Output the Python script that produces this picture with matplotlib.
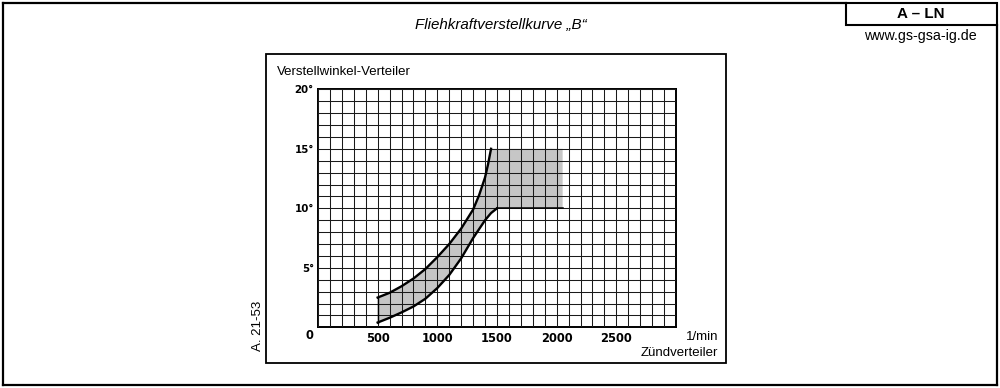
import matplotlib
matplotlib.use("Agg")
import matplotlib.pyplot as plt
from matplotlib.patches import Rectangle
from matplotlib.lines import Line2D
import numpy as np

# readings from the chart (rpm of distributor, advance angle in degrees)
upper_rpm = [500, 600, 700, 800, 900, 1000, 1100, 1200, 1300, 1350, 1400, 1425, 1450]
upper_deg = [2.5, 2.9, 3.45, 4.1, 4.9, 5.9, 7.0, 8.3, 9.9, 11.1, 12.6, 13.7, 15.0]
lower_rpm = [500, 600, 700, 800, 900, 1000, 1100, 1200, 1300, 1400, 1450, 1500]
lower_deg = [0.4, 0.8, 1.25, 1.75, 2.4, 3.3, 4.4, 5.8, 7.5, 9.0, 9.6, 10.0]
flat_end_rpm = 2050
flat_upper_deg = 15
flat_lower_deg = 10

x_ticks = [500, 1000, 1500, 2000, 2500]
y_ticks = [5, 10, 15, 20]

W, H = 1000, 388


def fx(px):
    return px / W


def fy(py):
    return 1 - py / H


def main():
    fig = plt.figure(figsize=(10, 3.88), dpi=100)
    fig.patch.set_facecolor("white")

    ax = fig.add_axes([fx(318), fy(327.3), fx(676) - fx(318), fy(89.3) - fy(327.3)])
    ax.set_xlim(0, 3000)
    ax.set_ylim(0, 20)

    ax.set_xticks(np.arange(0, 3001, 100), minor=True)
    ax.set_yticks(np.arange(0, 21, 1), minor=True)
    ax.set_xticks(x_ticks)
    ax.set_xticklabels([str(v) for v in x_ticks], fontfamily="DejaVu Sans",
                       fontweight="bold", fontsize=8.3)
    ax.set_yticks(y_ticks)
    ax.set_yticklabels([f"{v}°" for v in y_ticks], fontfamily="DejaVu Sans",
                       fontweight="bold", fontsize=7.4)
    ax.tick_params(which="both", length=0)
    ax.tick_params(axis="x", pad=3.2)
    ax.tick_params(axis="y", pad=3.0)

    ax.set_axisbelow(False)
    ax.grid(which="both", color="#1a1a1a", linewidth=0.75)
    for s in ax.spines.values():
        s.set_linewidth(1.4)

    # shaded band
    poly_x = upper_rpm + [flat_end_rpm, flat_end_rpm] + lower_rpm[::-1]
    poly_y = upper_deg + [flat_upper_deg, flat_lower_deg] + lower_deg[::-1]
    ax.fill(poly_x, poly_y, facecolor="#c6c6c6", edgecolor="none", zorder=1)

    ax.plot(upper_rpm, upper_deg, color="black", linewidth=1.7, zorder=3)
    ax.plot(lower_rpm, lower_deg, color="black", linewidth=1.7, zorder=3)
    ax.plot([upper_rpm[0], lower_rpm[0]], [upper_deg[0], lower_deg[0]],
            color="black", linewidth=1.0, zorder=3)
    ax.plot([lower_rpm[-1], flat_end_rpm], [flat_lower_deg, flat_lower_deg],
            color="black", linewidth=1.1, zorder=3)

    font = "Liberation Sans"
    fig.text(fx(309.3), fy(335.7), "0", ha="center", va="center",
             fontfamily="DejaVu Sans", fontweight="bold", fontsize=8.3)
    fig.text(fx(276.5), fy(71.7), "Verstellwinkel-Verteiler", ha="left", va="center",
             fontfamily=font, fontsize=9.5)
    fig.text(fx(718), fy(337), "1/min", ha="right", va="center",
             fontfamily=font, fontsize=9.5)
    fig.text(fx(718), fy(352.7), "Zündverteiler", ha="right", va="center",
             fontfamily=font, fontsize=9.5)
    fig.text(fx(258), fy(326), "A. 21-53", ha="center", va="center", rotation=90,
             fontfamily=font, fontsize=9.5)
    fig.text(fx(501), fy(25), "Fliehkraftverstellkurve „B“", ha="center", va="center",
             fontfamily=font, fontstyle="italic", fontsize=10.9)
    fig.text(fx(921), fy(13.5), "A – LN", ha="center", va="center",
             fontfamily=font, fontweight="bold", fontsize=10.9)
    fig.text(fx(920), fy(36), "www.gs-gsa-ig.de", ha="center", va="center",
             fontfamily=font, fontsize=10.3)

    # chart box
    fig.add_artist(Rectangle((fx(266), fy(362.7)), fx(726) - fx(266), fy(54) - fy(362.7),
                             transform=fig.transFigure, fill=False, linewidth=1.3,
                             edgecolor="black"))
    # page frame and code box
    fig.add_artist(Rectangle((fx(846), fy(25)), fx(997) - fx(846), fy(3) - fy(25),
                             transform=fig.transFigure, fill=False, linewidth=1.5,
                             edgecolor="black"))
    frame = [([3, 846], [3, 3]), ([3, 3], [3, 385]), ([3, 997], [385, 385]),
             ([997, 997], [25, 385])]
    for xs, ys in frame:
        fig.add_artist(Line2D([fx(v) for v in xs], [fy(v) for v in ys],
                              transform=fig.transFigure, color="black", linewidth=1.6))

    fig.savefig("out.png", dpi=100, facecolor="white")


if __name__ == "__main__":
    main()
